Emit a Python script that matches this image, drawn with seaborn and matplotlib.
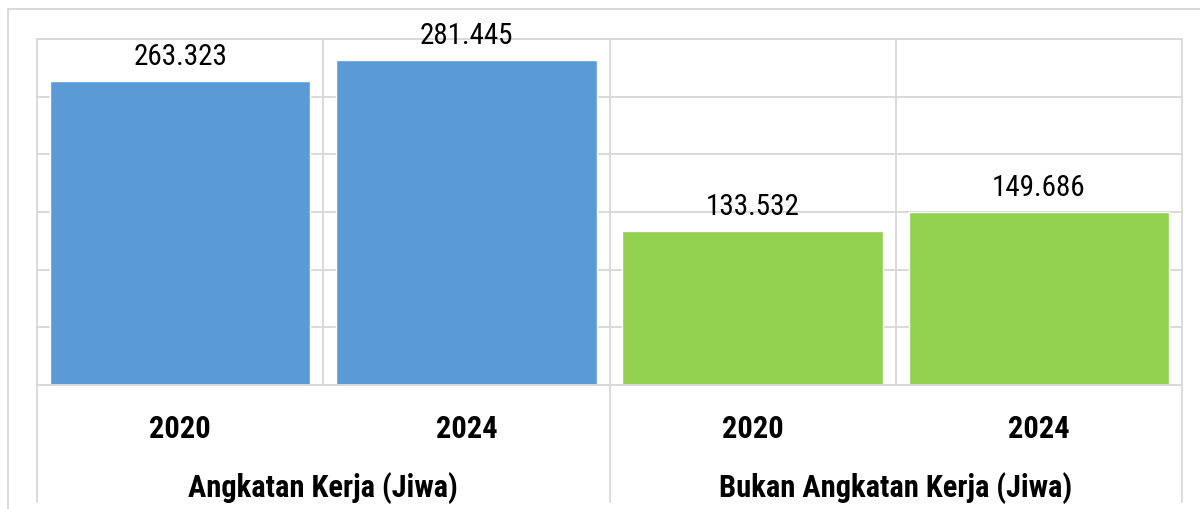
import matplotlib
matplotlib.use("Agg")
import matplotlib.pyplot as plt
from matplotlib.lines import Line2D
import seaborn as sns
import pandas as pd

groups = ["Angkatan Kerja (Jiwa)", "Angkatan Kerja (Jiwa)", "Bukan Angkatan Kerja (Jiwa)", "Bukan Angkatan Kerja (Jiwa)"]
years = ["2020", "2024", "2020", "2024"]
values = [263.323, 281.445, 133.532, 149.686]
value_labels = ["263.323", "281.445", "133.532", "149.686"]
group_names = ["Angkatan Kerja (Jiwa)", "Bukan Angkatan Kerja (Jiwa)"]
colors = ["#5B9BD5", "#5B9BD5", "#92D050", "#92D050"]

sns.set_theme(style="white")
plt.rcParams["font.family"] = ["Roboto Condensed", "Liberation Sans", "DejaVu Sans"]

df = pd.DataFrame({"key": [f"{g}|{y}" for g, y in zip(groups, years)], "value": values})

fig = plt.figure(figsize=(12, 5.1), dpi=100)
ax = fig.add_axes([37/1200, 1-386/510, (1182-37)/1200, (386-40)/510])
sns.barplot(data=df, x="key", y="value", hue="key", palette=colors, legend=False,
            width=0.91, ax=ax, saturation=1)

grid_c = "#D9D9D9"
ax.set_ylim(0, 300)
ax.set_xlim(-0.5, 3.5)
ax.set_yticks(range(0, 301, 50))
ax.yaxis.grid(True, color=grid_c, linewidth=1.4)
ax.set_axisbelow(True)
for xv in [0.5, 1.5, 2.5]:
    ax.axvline(xv, color=grid_c, linewidth=1.4, zorder=0)
for s in ax.spines.values():
    s.set_color(grid_c)
    s.set_linewidth(1.4)
ax.tick_params(axis="y", left=False, labelleft=False)
ax.tick_params(axis="x", length=0, pad=20)
ax.set_xticks(range(4))
ax.set_xticklabels(years, fontsize=22, fontweight="bold", color="black")
ax.set_xlabel("")
ax.set_ylabel("")

for cont in ax.containers:
    ax.bar_label(cont, labels=[value_labels[int(round(b.get_x() + b.get_width()/2))] for b in cont],
                 padding=8, fontsize=21, color="black")

# group labels and separators below the axis
for i, g in enumerate(group_names):
    ax.text(i*2 + 0.5, -0.295, g, transform=ax.get_xaxis_transform(), ha="center", va="center",
            fontsize=22, fontweight="bold", color="black")
for xv in [-0.5, 1.5, 3.5]:
    ax.plot([xv, xv], [0, -0.338], transform=ax.get_xaxis_transform(), color=grid_c,
            linewidth=1.4, clip_on=False)

# outer chart frame
fig.add_artist(Line2D([8/1200, 8/1200], [0, 1-10/510], color=grid_c, linewidth=1.4))
fig.add_artist(Line2D([8/1200, 1], [1-10/510, 1-10/510], color=grid_c, linewidth=1.4))

fig.savefig("out.png", dpi=100)
